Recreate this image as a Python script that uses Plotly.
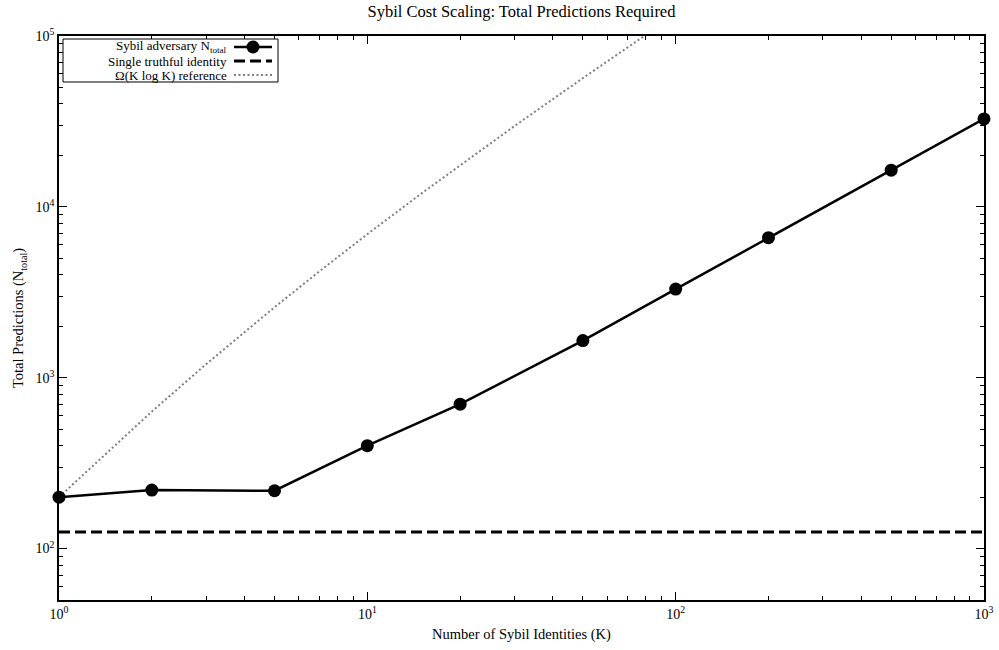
import plotly.graph_objects as go

# ---- data ----
K = [1, 2, 5, 10, 20, 50, 100, 200, 500, 1000]
N_sybil = [200, 220, 218, 400, 700, 1650, 3300, 6600, 16400, 32700]

K_truthful = [1, 1000]
N_truthful = [125, 125]

K_ref = [1, 2, 3, 5, 7, 10, 15, 20, 30, 50, 70, 80]
N_ref = [200, 634, 1200, 2585, 4200, 6920, 12000, 17570, 29700, 56700, 86300, 101400]

x_tickvals = [1, 10, 100, 1000]
x_ticktext = ["10<sup>0</sup>", "10<sup>1</sup>", "10<sup>2</sup>", "10<sup>3</sup>"]
y_tickvals = [100, 1000, 10000, 100000]
y_ticktext = ["10<sup>2</sup>", "10<sup>3</sup>", "10<sup>4</sup>", "10<sup>5</sup>"]

legend_labels = ["Sybil adversary N<sub>total</sub>", "Single truthful identity",
                 "Ω(K log K) reference"]

FONT = "Liberation Serif"

fig = go.Figure()
fig.add_trace(go.Scatter(x=K_ref, y=N_ref, mode="lines",
                         line=dict(color="#7f7f7f", width=2, dash="2px,2.5px"),
                         showlegend=False, name=legend_labels[2]))
fig.add_trace(go.Scatter(x=K_truthful, y=N_truthful, mode="lines",
                         line=dict(color="black", width=3, dash="11px,5px"),
                         showlegend=False, name=legend_labels[1]))
fig.add_trace(go.Scatter(x=K, y=N_sybil, mode="lines+markers",
                         line=dict(color="black", width=2.5),
                         marker=dict(color="black", size=13),
                         showlegend=False, name=legend_labels[0], cliponaxis=False))

axis_common = dict(type="log", showline=True, linecolor="black", linewidth=1.5,
                   mirror="ticks", ticks="inside", ticklen=8, tickwidth=1,
                   tickcolor="black", showgrid=False, zeroline=False,
                   automargin=False, ticklabeloverflow="allow",
                   tickfont=dict(family=FONT, size=14, color="black"),
                   minor=dict(ticks="inside", ticklen=4, tickwidth=1,
                              tickcolor="black", dtick="D1", showgrid=False))

fig.update_xaxes(**axis_common, range=[0, 3], tickvals=x_tickvals, ticktext=x_ticktext,
                 title=dict(text="Number of Sybil Identities (K)",
                            font=dict(family=FONT, size=14.5, color="black"), standoff=8))
fig.update_yaxes(**axis_common, range=[1.69897, 5], tickvals=y_tickvals, ticktext=y_ticktext,
                 title=dict(text="Total Predictions (N<sub>total</sub>)",
                            font=dict(family=FONT, size=14.5, color="black"), standoff=8))

# ---- gnuplot-style legend (text left, sample right) ----
W, H, L, T = 925.0, 564.0, 59.0, 36.0
def px(x):
    return (x - L) / W
def py(y):
    return (T + H - y) / H

shapes = [dict(type="rect", xref="paper", yref="paper",
               x0=px(63), x1=px(278), y0=py(82), y1=py(39),
               line=dict(color="black", width=1), fillcolor="white")]
rows = [47, 61, 75]
styles = [dict(color="black", width=2.5), dict(color="black", width=3, dash="11px,5px"),
          dict(color="#7f7f7f", width=2, dash="2px,2.5px")]
annotations = []
for r, lab, st in zip(rows, legend_labels, styles):
    shapes.append(dict(type="line", xref="paper", yref="paper",
                       x0=px(234), x1=px(272), y0=py(r), y1=py(r), line=st))
    annotations.append(dict(xref="paper", yref="paper", x=px(229), y=py(r),
                            text=lab, showarrow=False, xanchor="right", yanchor="middle",
                            font=dict(family=FONT, size=13, color="black")))
shapes.append(dict(type="circle", xref="paper", yref="paper", xsizemode="pixel",
                   ysizemode="pixel", xanchor=px(253), yanchor=py(rows[0]),
                   x0=-6.5, x1=6.5, y0=-6.5, y1=6.5, fillcolor="black",
                   line=dict(color="black", width=0)))

fig.update_layout(
    width=999, height=650,
    margin=dict(l=59, r=15, t=36, b=50),
    paper_bgcolor="white", plot_bgcolor="white",
    title=dict(text="Sybil Cost Scaling: Total Predictions Required",
               x=0.5, xref="paper", y=0.982, yref="container", yanchor="middle",
               font=dict(family=FONT, size=16.5, color="black")),
    shapes=shapes, annotations=annotations, showlegend=False,
)

fig.write_html("out.html", config={"displayModeBar": False},
               post_script="document.body.style.margin='0';document.body.style.overflow='hidden';")
